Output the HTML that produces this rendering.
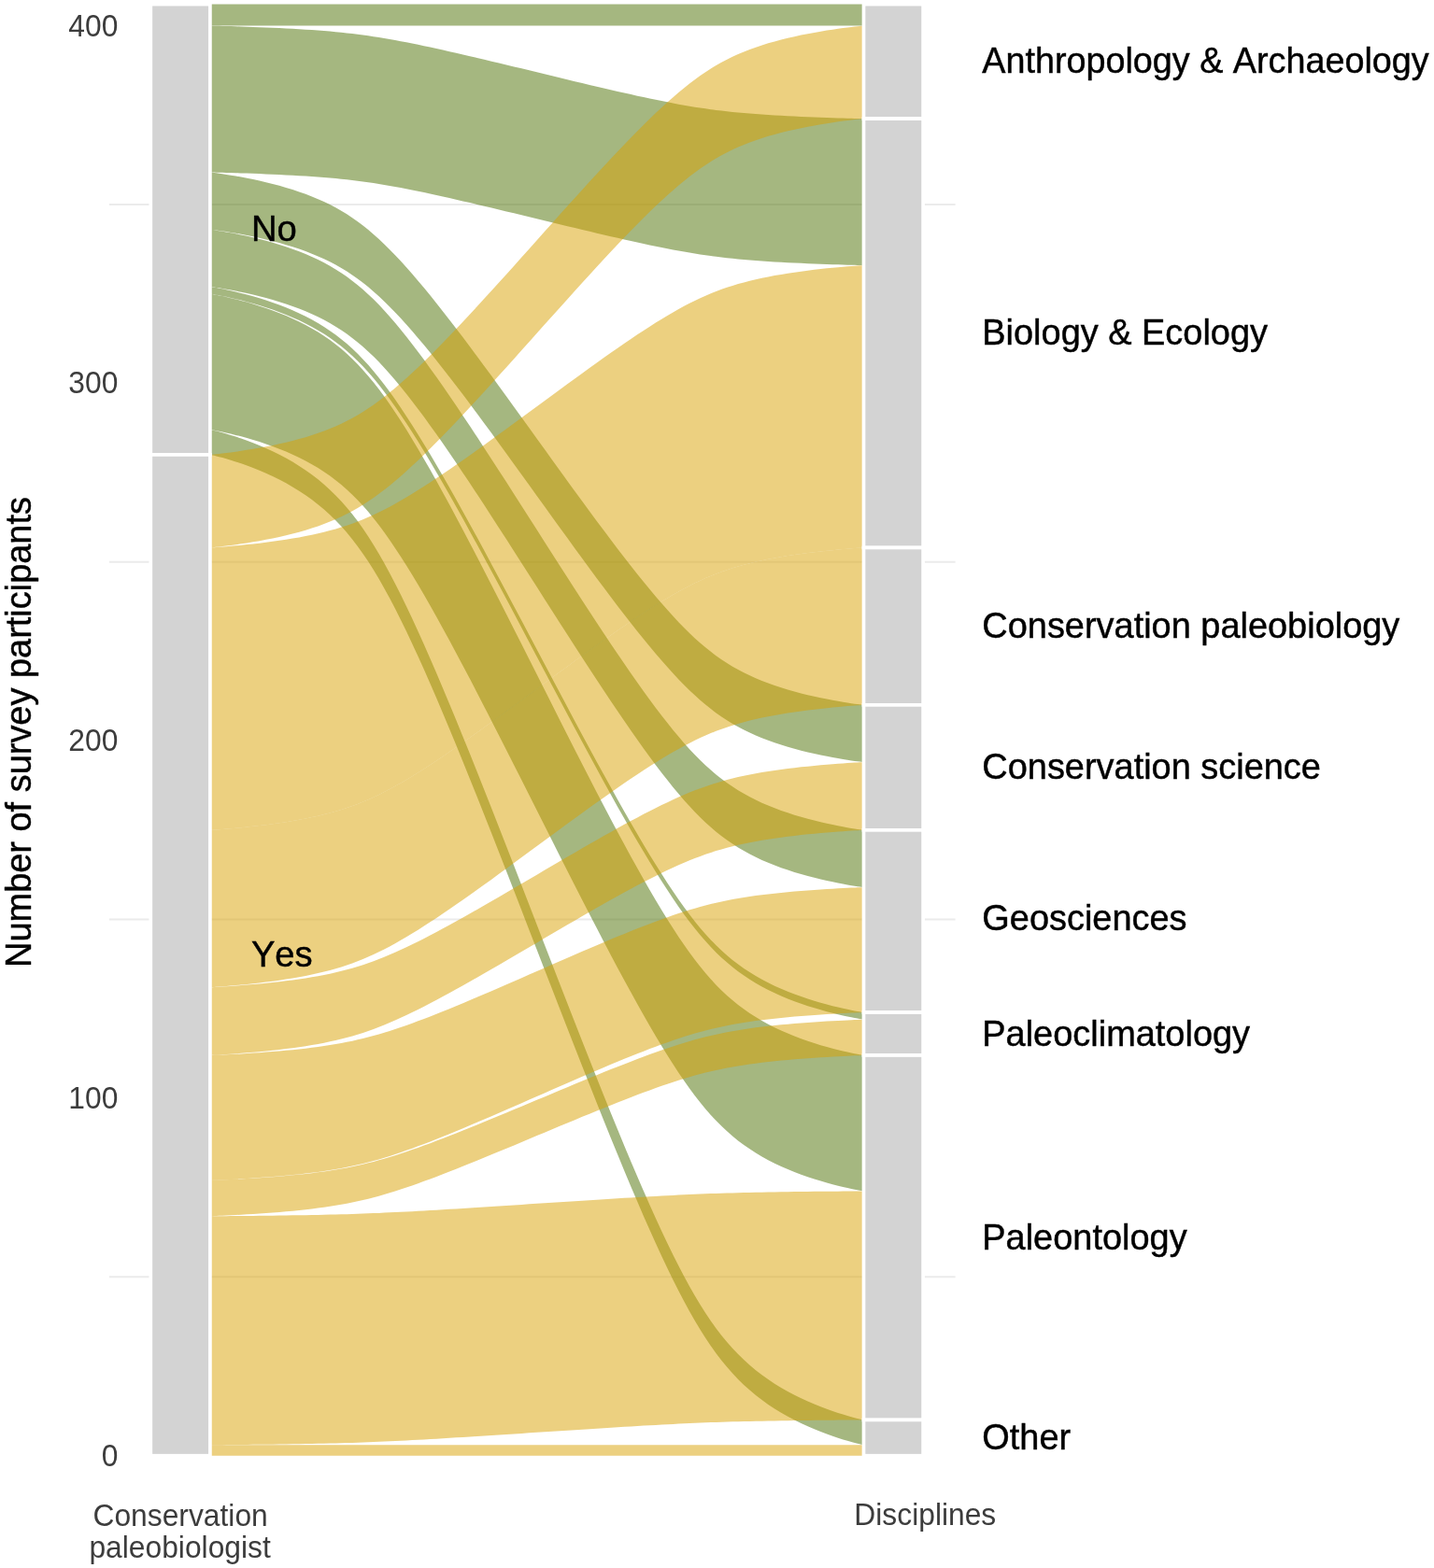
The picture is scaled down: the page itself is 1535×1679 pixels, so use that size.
<!DOCTYPE html><html><head><meta charset="utf-8"><style>html,body{margin:0;padding:0;background:#fff;}svg{display:block;}text{font-family:"Liberation Sans",Arial,sans-serif;font-kerning:none;}</style></head><body>
<svg width="1535" height="1679" viewBox="0 0 1535 1679">
<rect x="0" y="0" width="1535" height="1679" fill="#fff"/>
<line x1="116.9" x2="1022.6" y1="1367.31" y2="1367.31" stroke="#ebebeb" stroke-width="1.9"/>
<line x1="116.9" x2="1022.6" y1="984.53" y2="984.53" stroke="#ebebeb" stroke-width="1.9"/>
<line x1="116.9" x2="1022.6" y1="601.75" y2="601.75" stroke="#ebebeb" stroke-width="1.9"/>
<line x1="116.9" x2="1022.6" y1="218.97" y2="218.97" stroke="#ebebeb" stroke-width="1.9"/>
<path d="M224.90 4.61 L224.92 4.61 L225.08 4.61 L225.49 4.61 L226.26 4.61 L227.48 4.61 L229.23 4.61 L231.56 4.61 L234.49 4.61 L238.06 4.61 L242.25 4.61 L247.02 4.61 L252.34 4.61 L258.15 4.61 L264.37 4.61 L270.93 4.61 L277.74 4.61 L284.74 4.61 L291.85 4.61 L299.00 4.61 L306.15 4.61 L313.23 4.61 L320.22 4.61 L327.10 4.61 L333.83 4.61 L340.42 4.61 L346.86 4.61 L353.15 4.61 L359.30 4.61 L365.32 4.61 L371.24 4.61 L377.07 4.61 L382.82 4.61 L388.52 4.61 L394.20 4.61 L399.88 4.61 L405.58 4.61 L411.31 4.61 L417.11 4.61 L422.99 4.61 L428.95 4.61 L435.01 4.61 L441.19 4.61 L447.49 4.61 L453.92 4.61 L460.49 4.61 L467.21 4.61 L474.07 4.61 L481.09 4.61 L488.26 4.61 L495.57 4.61 L503.03 4.61 L510.62 4.61 L518.33 4.61 L526.16 4.61 L534.09 4.61 L542.10 4.61 L550.19 4.61 L558.33 4.61 L566.50 4.61 L574.70 4.61 L582.90 4.61 L591.07 4.61 L599.21 4.61 L607.30 4.61 L615.31 4.61 L623.24 4.61 L631.07 4.61 L638.78 4.61 L646.37 4.61 L653.83 4.61 L661.14 4.61 L668.31 4.61 L675.33 4.61 L682.19 4.61 L688.91 4.61 L695.48 4.61 L701.91 4.61 L708.21 4.61 L714.39 4.61 L720.45 4.61 L726.41 4.61 L732.29 4.61 L738.09 4.61 L743.82 4.61 L749.52 4.61 L755.20 4.61 L760.88 4.61 L766.58 4.61 L772.33 4.61 L778.16 4.61 L784.08 4.61 L790.10 4.61 L796.25 4.61 L802.54 4.61 L808.98 4.61 L815.57 4.61 L822.30 4.61 L829.18 4.61 L836.17 4.61 L843.25 4.61 L850.40 4.61 L857.55 4.61 L864.66 4.61 L871.66 4.61 L878.47 4.61 L885.03 4.61 L891.25 4.61 L897.06 4.61 L902.38 4.61 L907.15 4.61 L911.34 4.61 L914.91 4.61 L917.84 4.61 L920.17 4.61 L921.92 4.61 L923.14 4.61 L923.91 4.61 L924.32 4.61 L924.48 4.61 L924.50 4.61 L924.50 27.58 L924.48 27.58 L924.32 27.58 L923.91 27.58 L923.14 27.58 L921.92 27.58 L920.17 27.58 L917.84 27.58 L914.91 27.58 L911.34 27.58 L907.15 27.58 L902.38 27.58 L897.06 27.58 L891.25 27.58 L885.03 27.58 L878.47 27.58 L871.66 27.58 L864.66 27.58 L857.55 27.58 L850.40 27.58 L843.25 27.58 L836.17 27.58 L829.18 27.58 L822.30 27.58 L815.57 27.58 L808.98 27.58 L802.54 27.58 L796.25 27.58 L790.10 27.58 L784.08 27.58 L778.16 27.58 L772.33 27.58 L766.58 27.58 L760.88 27.58 L755.20 27.58 L749.52 27.58 L743.82 27.58 L738.09 27.58 L732.29 27.58 L726.41 27.58 L720.45 27.58 L714.39 27.58 L708.21 27.58 L701.91 27.58 L695.48 27.58 L688.91 27.58 L682.19 27.58 L675.33 27.58 L668.31 27.58 L661.14 27.58 L653.83 27.58 L646.37 27.58 L638.78 27.58 L631.07 27.58 L623.24 27.58 L615.31 27.58 L607.30 27.58 L599.21 27.58 L591.07 27.58 L582.90 27.58 L574.70 27.58 L566.50 27.58 L558.33 27.58 L550.19 27.58 L542.10 27.58 L534.09 27.58 L526.16 27.58 L518.33 27.58 L510.62 27.58 L503.03 27.58 L495.57 27.58 L488.26 27.58 L481.09 27.58 L474.07 27.58 L467.21 27.58 L460.49 27.58 L453.92 27.58 L447.49 27.58 L441.19 27.58 L435.01 27.58 L428.95 27.58 L422.99 27.58 L417.11 27.58 L411.31 27.58 L405.58 27.58 L399.88 27.58 L394.20 27.58 L388.52 27.58 L382.82 27.58 L377.07 27.58 L371.24 27.58 L365.32 27.58 L359.30 27.58 L353.15 27.58 L346.86 27.58 L340.42 27.58 L333.83 27.58 L327.10 27.58 L320.22 27.58 L313.23 27.58 L306.15 27.58 L299.00 27.58 L291.85 27.58 L284.74 27.58 L277.74 27.58 L270.93 27.58 L264.37 27.58 L258.15 27.58 L252.34 27.58 L247.02 27.58 L242.25 27.58 L238.06 27.58 L234.49 27.58 L231.56 27.58 L229.23 27.58 L227.48 27.58 L226.26 27.58 L225.49 27.58 L225.08 27.58 L224.92 27.58 L224.90 27.58 Z" fill="#4b6f01" fill-opacity="0.500"/>
<path d="M224.90 27.58 L224.92 27.58 L225.08 27.58 L225.49 27.59 L226.26 27.61 L227.48 27.63 L229.23 27.67 L231.56 27.72 L234.49 27.79 L238.06 27.88 L242.25 27.99 L247.02 28.12 L252.34 28.28 L258.15 28.46 L264.37 28.67 L270.93 28.90 L277.74 29.16 L284.74 29.45 L291.85 29.75 L299.00 30.08 L306.15 30.44 L313.23 30.82 L320.22 31.22 L327.10 31.65 L333.83 32.10 L340.42 32.58 L346.86 33.08 L353.15 33.62 L359.30 34.18 L365.32 34.77 L371.24 35.40 L377.07 36.07 L382.82 36.78 L388.52 37.53 L394.20 38.32 L399.88 39.16 L405.58 40.05 L411.31 41.00 L417.11 42.00 L422.99 43.05 L428.95 44.17 L435.01 45.34 L441.19 46.56 L447.49 47.84 L453.92 49.18 L460.49 50.58 L467.21 52.04 L474.07 53.56 L481.09 55.13 L488.26 56.76 L495.57 58.44 L503.03 60.17 L510.62 61.95 L518.33 63.77 L526.16 65.63 L534.09 67.53 L542.10 69.46 L550.19 71.41 L558.33 73.37 L566.50 75.35 L574.70 77.34 L582.90 79.33 L591.07 81.31 L599.21 83.28 L607.30 85.23 L615.31 87.15 L623.24 89.05 L631.07 90.91 L638.78 92.73 L646.37 94.51 L653.83 96.24 L661.14 97.92 L668.31 99.55 L675.33 101.12 L682.19 102.64 L688.91 104.10 L695.48 105.50 L701.91 106.84 L708.21 108.12 L714.39 109.35 L720.45 110.52 L726.41 111.63 L732.29 112.68 L738.09 113.68 L743.82 114.63 L749.52 115.52 L755.20 116.36 L760.88 117.16 L766.58 117.90 L772.33 118.61 L778.16 119.28 L784.08 119.91 L790.10 120.50 L796.25 121.07 L802.54 121.60 L808.98 122.11 L815.57 122.58 L822.30 123.04 L829.18 123.46 L836.17 123.87 L843.25 124.24 L850.40 124.60 L857.55 124.93 L864.66 125.24 L871.66 125.52 L878.47 125.78 L885.03 126.01 L891.25 126.22 L897.06 126.40 L902.38 126.56 L907.15 126.69 L911.34 126.80 L914.91 126.89 L917.84 126.96 L920.17 127.01 L921.92 127.05 L923.14 127.08 L923.91 127.09 L924.32 127.10 L924.48 127.10 L924.50 127.10 L924.50 284.04 L924.48 284.04 L924.32 284.04 L923.91 284.03 L923.14 284.02 L921.92 283.99 L920.17 283.95 L917.84 283.90 L914.91 283.83 L911.34 283.74 L907.15 283.63 L902.38 283.50 L897.06 283.34 L891.25 283.16 L885.03 282.95 L878.47 282.72 L871.66 282.46 L864.66 282.18 L857.55 281.87 L850.40 281.54 L843.25 281.18 L836.17 280.81 L829.18 280.40 L822.30 279.98 L815.57 279.52 L808.98 279.05 L802.54 278.54 L796.25 278.01 L790.10 277.44 L784.08 276.85 L778.16 276.22 L772.33 275.55 L766.58 274.84 L760.88 274.10 L755.20 273.30 L749.52 272.46 L743.82 271.57 L738.09 270.62 L732.29 269.62 L726.41 268.57 L720.45 267.46 L714.39 266.29 L708.21 265.06 L701.91 263.78 L695.48 262.44 L688.91 261.04 L682.19 259.58 L675.33 258.06 L668.31 256.49 L661.14 254.86 L653.83 253.18 L646.37 251.45 L638.78 249.67 L631.07 247.85 L623.24 245.99 L615.31 244.09 L607.30 242.17 L599.21 240.22 L591.07 238.25 L582.90 236.27 L574.70 234.28 L566.50 232.29 L558.33 230.31 L550.19 228.35 L542.10 226.40 L534.09 224.47 L526.16 222.57 L518.33 220.71 L510.62 218.89 L503.03 217.11 L495.57 215.38 L488.26 213.70 L481.09 212.07 L474.07 210.50 L467.21 208.98 L460.49 207.52 L453.92 206.12 L447.49 204.78 L441.19 203.50 L435.01 202.28 L428.95 201.11 L422.99 199.99 L417.11 198.94 L411.31 197.94 L405.58 196.99 L399.88 196.10 L394.20 195.26 L388.52 194.47 L382.82 193.72 L377.07 193.01 L371.24 192.34 L365.32 191.71 L359.30 191.12 L353.15 190.56 L346.86 190.02 L340.42 189.52 L333.83 189.04 L327.10 188.59 L320.22 188.16 L313.23 187.76 L306.15 187.38 L299.00 187.02 L291.85 186.69 L284.74 186.38 L277.74 186.10 L270.93 185.84 L264.37 185.61 L258.15 185.40 L252.34 185.22 L247.02 185.06 L242.25 184.93 L238.06 184.82 L234.49 184.73 L231.56 184.66 L229.23 184.61 L227.48 184.57 L226.26 184.55 L225.49 184.53 L225.08 184.52 L224.92 184.52 L224.90 184.52 Z" fill="#4b6f01" fill-opacity="0.500"/>
<path d="M224.90 184.52 L224.92 184.52 L225.08 184.54 L225.49 184.58 L226.26 184.67 L227.48 184.81 L229.23 185.02 L231.56 185.33 L234.49 185.73 L238.06 186.24 L242.25 186.88 L247.02 187.64 L252.34 188.55 L258.15 189.59 L264.37 190.78 L270.93 192.11 L277.74 193.59 L284.74 195.21 L291.85 196.97 L299.00 198.86 L306.15 200.90 L313.23 203.07 L320.22 205.38 L327.10 207.83 L333.83 210.42 L340.42 213.16 L346.86 216.05 L353.15 219.11 L359.30 222.34 L365.32 225.75 L371.24 229.36 L377.07 233.19 L382.82 237.23 L388.52 241.52 L394.20 246.07 L399.88 250.89 L405.58 256.00 L411.31 261.42 L417.11 267.15 L422.99 273.20 L428.95 279.58 L435.01 286.27 L441.19 293.29 L447.49 300.64 L453.92 308.33 L460.49 316.35 L467.21 324.71 L474.07 333.39 L481.09 342.41 L488.26 351.74 L495.57 361.37 L503.03 371.30 L510.62 381.49 L518.33 391.93 L526.16 402.60 L534.09 413.47 L542.10 424.50 L550.19 435.68 L558.33 446.96 L566.50 458.31 L574.70 469.69 L582.90 481.08 L591.07 492.43 L599.21 503.70 L607.30 514.88 L615.31 525.91 L623.24 536.78 L631.07 547.45 L638.78 557.89 L646.37 568.09 L653.83 578.01 L661.14 587.64 L668.31 596.97 L675.33 605.99 L682.19 614.68 L688.91 623.03 L695.48 631.05 L701.91 638.74 L708.21 646.09 L714.39 653.11 L720.45 659.80 L726.41 666.18 L732.29 672.23 L738.09 677.96 L743.82 683.38 L749.52 688.49 L755.20 693.31 L760.88 697.86 L766.58 702.15 L772.33 706.20 L778.16 710.02 L784.08 713.63 L790.10 717.04 L796.25 720.27 L802.54 723.33 L808.98 726.23 L815.57 728.97 L822.30 731.56 L829.18 734.00 L836.17 736.31 L843.25 738.48 L850.40 740.52 L857.55 742.42 L864.66 744.17 L871.66 745.79 L878.47 747.27 L885.03 748.60 L891.25 749.79 L897.06 750.84 L902.38 751.74 L907.15 752.51 L911.34 753.14 L914.91 753.66 L917.84 754.06 L920.17 754.36 L921.92 754.57 L923.14 754.71 L923.91 754.80 L924.32 754.84 L924.48 754.86 L924.50 754.86 L924.50 816.11 L924.48 816.10 L924.32 816.09 L923.91 816.05 L923.14 815.96 L921.92 815.82 L920.17 815.60 L917.84 815.30 L914.91 814.90 L911.34 814.39 L907.15 813.75 L902.38 812.99 L897.06 812.08 L891.25 811.04 L885.03 809.85 L878.47 808.51 L871.66 807.04 L864.66 805.42 L857.55 803.66 L850.40 801.76 L843.25 799.73 L836.17 797.56 L829.18 795.25 L822.30 792.80 L815.57 790.21 L808.98 787.47 L802.54 784.58 L796.25 781.52 L790.10 778.29 L784.08 774.88 L778.16 771.26 L772.33 767.44 L766.58 763.39 L760.88 759.10 L755.20 754.56 L749.52 749.73 L743.82 744.62 L738.09 739.21 L732.29 733.48 L726.41 727.42 L720.45 721.05 L714.39 714.35 L708.21 707.34 L701.91 699.98 L695.48 692.30 L688.91 684.28 L682.19 675.92 L675.33 667.23 L668.31 658.22 L661.14 648.89 L653.83 639.25 L646.37 629.33 L638.78 619.14 L631.07 608.69 L623.24 598.03 L615.31 587.16 L607.30 576.12 L599.21 564.95 L591.07 553.67 L582.90 542.32 L574.70 530.94 L566.50 519.55 L558.33 508.20 L550.19 496.92 L542.10 485.75 L534.09 474.71 L526.16 463.85 L518.33 453.18 L510.62 442.74 L503.03 432.54 L495.57 422.62 L488.26 412.98 L481.09 403.65 L474.07 394.64 L467.21 385.95 L460.49 377.59 L453.92 369.57 L447.49 361.89 L441.19 354.54 L435.01 347.52 L428.95 340.82 L422.99 334.45 L417.11 328.39 L411.31 322.66 L405.58 317.25 L399.88 312.14 L394.20 307.32 L388.52 302.77 L382.82 298.48 L377.07 294.43 L371.24 290.61 L365.32 287.00 L359.30 283.58 L353.15 280.35 L346.86 277.29 L340.42 274.40 L333.83 271.66 L327.10 269.07 L320.22 266.62 L313.23 264.31 L306.15 262.14 L299.00 260.11 L291.85 258.21 L284.74 256.45 L277.74 254.83 L270.93 253.36 L264.37 252.02 L258.15 250.84 L252.34 249.79 L247.02 248.89 L242.25 248.12 L238.06 247.48 L234.49 246.97 L231.56 246.57 L229.23 246.27 L227.48 246.05 L226.26 245.91 L225.49 245.83 L225.08 245.78 L224.92 245.77 L224.90 245.76 Z" fill="#4b6f01" fill-opacity="0.500"/>
<path d="M224.90 245.76 L224.92 245.77 L225.08 245.79 L225.49 245.83 L226.26 245.93 L227.48 246.09 L229.23 246.33 L231.56 246.67 L234.49 247.13 L238.06 247.70 L242.25 248.42 L247.02 249.28 L252.34 250.30 L258.15 251.48 L264.37 252.82 L270.93 254.33 L277.74 255.99 L284.74 257.82 L291.85 259.80 L299.00 261.94 L306.15 264.23 L313.23 266.68 L320.22 269.28 L327.10 272.04 L333.83 274.96 L340.42 278.05 L346.86 281.32 L353.15 284.76 L359.30 288.40 L365.32 292.25 L371.24 296.33 L377.07 300.64 L382.82 305.20 L388.52 310.04 L394.20 315.16 L399.88 320.60 L405.58 326.36 L411.31 332.47 L417.11 338.93 L422.99 345.75 L428.95 352.94 L435.01 360.49 L441.19 368.41 L447.49 376.69 L453.92 385.36 L460.49 394.40 L467.21 403.83 L474.07 413.62 L481.09 423.79 L488.26 434.31 L495.57 445.17 L503.03 456.36 L510.62 467.85 L518.33 479.63 L526.16 491.66 L534.09 503.91 L542.10 516.35 L550.19 528.95 L558.33 541.67 L566.50 554.46 L574.70 567.30 L582.90 580.14 L591.07 592.93 L599.21 605.65 L607.30 618.25 L615.31 630.69 L623.24 642.94 L631.07 654.97 L638.78 666.75 L646.37 678.24 L653.83 689.43 L661.14 700.29 L668.31 710.81 L675.33 720.98 L682.19 730.77 L688.91 740.20 L695.48 749.24 L701.91 757.91 L708.21 766.19 L714.39 774.11 L720.45 781.66 L726.41 788.84 L732.29 795.67 L738.09 802.13 L743.82 808.24 L749.52 814.00 L755.20 819.44 L760.88 824.56 L766.58 829.40 L772.33 833.96 L778.16 838.27 L784.08 842.35 L790.10 846.20 L796.25 849.84 L802.54 853.28 L808.98 856.55 L815.57 859.64 L822.30 862.56 L829.18 865.32 L836.17 867.92 L843.25 870.37 L850.40 872.66 L857.55 874.80 L864.66 876.78 L871.66 878.61 L878.47 880.27 L885.03 881.78 L891.25 883.12 L897.06 884.30 L902.38 885.32 L907.15 886.18 L911.34 886.90 L914.91 887.47 L917.84 887.93 L920.17 888.27 L921.92 888.51 L923.14 888.67 L923.91 888.77 L924.32 888.81 L924.48 888.83 L924.50 888.84 L924.50 950.08 L924.48 950.08 L924.32 950.06 L923.91 950.01 L923.14 949.91 L921.92 949.75 L920.17 949.51 L917.84 949.17 L914.91 948.72 L911.34 948.14 L907.15 947.42 L902.38 946.56 L897.06 945.54 L891.25 944.36 L885.03 943.02 L878.47 941.52 L871.66 939.85 L864.66 938.03 L857.55 936.05 L850.40 933.91 L843.25 931.61 L836.17 929.17 L829.18 926.56 L822.30 923.80 L815.57 920.88 L808.98 917.79 L802.54 914.53 L796.25 911.08 L790.10 907.44 L784.08 903.59 L778.16 899.52 L772.33 895.21 L766.58 890.64 L760.88 885.81 L755.20 880.68 L749.52 875.24 L743.82 869.48 L738.09 863.37 L732.29 856.91 L726.41 850.09 L720.45 842.90 L714.39 835.35 L708.21 827.44 L701.91 819.15 L695.48 810.48 L688.91 801.44 L682.19 792.02 L675.33 782.22 L668.31 772.06 L661.14 761.54 L653.83 750.67 L646.37 739.49 L638.78 727.99 L631.07 716.22 L623.24 704.19 L615.31 691.94 L607.30 679.49 L599.21 666.90 L591.07 654.18 L582.90 641.38 L574.70 628.54 L566.50 615.71 L558.33 602.91 L550.19 590.19 L542.10 577.59 L534.09 565.15 L526.16 552.90 L518.33 540.87 L510.62 529.10 L503.03 517.60 L495.57 506.41 L488.26 495.55 L481.09 485.03 L474.07 474.87 L467.21 465.07 L460.49 455.65 L453.92 446.60 L447.49 437.94 L441.19 429.65 L435.01 421.74 L428.95 414.19 L422.99 407.00 L417.11 400.18 L411.31 393.71 L405.58 387.61 L399.88 381.85 L394.20 376.41 L388.52 371.28 L382.82 366.44 L377.07 361.88 L371.24 357.57 L365.32 353.50 L359.30 349.65 L353.15 346.01 L346.86 342.56 L340.42 339.30 L333.83 336.21 L327.10 333.29 L320.22 330.53 L313.23 327.92 L306.15 325.48 L299.00 323.18 L291.85 321.04 L284.74 319.06 L277.74 317.24 L270.93 315.57 L264.37 314.07 L258.15 312.73 L252.34 311.55 L247.02 310.53 L242.25 309.67 L238.06 308.95 L234.49 308.37 L231.56 307.92 L229.23 307.58 L227.48 307.34 L226.26 307.18 L225.49 307.08 L225.08 307.03 L224.92 307.01 L224.90 307.01 Z" fill="#4b6f01" fill-opacity="0.500"/>
<path d="M224.90 307.01 L224.92 307.01 L225.08 307.03 L225.49 307.09 L226.26 307.21 L227.48 307.40 L229.23 307.70 L231.56 308.11 L234.49 308.65 L238.06 309.35 L242.25 310.22 L247.02 311.26 L252.34 312.49 L258.15 313.92 L264.37 315.54 L270.93 317.35 L277.74 319.37 L284.74 321.57 L291.85 323.97 L299.00 326.55 L306.15 329.32 L313.23 332.28 L320.22 335.43 L327.10 338.76 L333.83 342.29 L340.42 346.02 L346.86 349.97 L353.15 354.13 L359.30 358.53 L365.32 363.18 L371.24 368.10 L377.07 373.31 L382.82 378.83 L388.52 384.67 L394.20 390.87 L399.88 397.44 L405.58 404.40 L411.31 411.78 L417.11 419.59 L422.99 427.83 L428.95 436.52 L435.01 445.64 L441.19 455.20 L447.49 465.22 L453.92 475.69 L460.49 486.62 L467.21 498.00 L474.07 509.84 L481.09 522.12 L488.26 534.83 L495.57 547.96 L503.03 561.48 L510.62 575.37 L518.33 589.59 L526.16 604.13 L534.09 618.93 L542.10 633.97 L550.19 649.19 L558.33 664.56 L566.50 680.02 L574.70 695.53 L582.90 711.04 L591.07 726.51 L599.21 741.87 L607.30 757.10 L615.31 772.13 L623.24 786.94 L631.07 801.47 L638.78 815.70 L646.37 829.58 L653.83 843.10 L661.14 856.23 L668.31 868.94 L675.33 881.22 L682.19 893.06 L688.91 904.45 L695.48 915.38 L701.91 925.85 L708.21 935.86 L714.39 945.42 L720.45 954.55 L726.41 963.23 L732.29 971.48 L738.09 979.28 L743.82 986.66 L749.52 993.63 L755.20 1000.20 L760.88 1006.39 L766.58 1012.24 L772.33 1017.75 L778.16 1022.96 L784.08 1027.88 L790.10 1032.53 L796.25 1036.93 L802.54 1041.10 L808.98 1045.04 L815.57 1048.77 L822.30 1052.30 L829.18 1055.64 L836.17 1058.78 L843.25 1061.74 L850.40 1064.51 L857.55 1067.10 L864.66 1069.49 L871.66 1071.70 L878.47 1073.71 L885.03 1075.52 L891.25 1077.14 L897.06 1078.57 L902.38 1079.80 L907.15 1080.84 L911.34 1081.71 L914.91 1082.41 L917.84 1082.95 L920.17 1083.36 L921.92 1083.66 L923.14 1083.85 L923.91 1083.97 L924.32 1084.03 L924.48 1084.05 L924.50 1084.05 L924.50 1091.71 L924.48 1091.71 L924.32 1091.68 L923.91 1091.62 L923.14 1091.51 L921.92 1091.31 L920.17 1091.02 L917.84 1090.61 L914.91 1090.06 L911.34 1089.37 L907.15 1088.50 L902.38 1087.46 L897.06 1086.22 L891.25 1084.80 L885.03 1083.18 L878.47 1081.36 L871.66 1079.35 L864.66 1077.15 L857.55 1074.75 L850.40 1072.17 L843.25 1069.39 L836.17 1066.44 L829.18 1063.29 L822.30 1059.96 L815.57 1056.43 L808.98 1052.69 L802.54 1048.75 L796.25 1044.59 L790.10 1040.19 L784.08 1035.53 L778.16 1030.61 L772.33 1025.41 L766.58 1019.89 L760.88 1014.05 L755.20 1007.85 L749.52 1001.28 L743.82 994.32 L738.09 986.94 L732.29 979.13 L726.41 970.89 L720.45 962.20 L714.39 953.08 L708.21 943.52 L701.91 933.50 L695.48 923.03 L688.91 912.10 L682.19 900.72 L675.33 888.88 L668.31 876.60 L661.14 863.89 L653.83 850.76 L646.37 837.24 L638.78 823.35 L631.07 809.12 L623.24 794.59 L615.31 779.79 L607.30 764.75 L599.21 749.53 L591.07 734.16 L582.90 718.70 L574.70 703.19 L566.50 687.68 L558.33 672.21 L550.19 656.85 L542.10 641.62 L534.09 626.59 L526.16 611.78 L518.33 597.25 L510.62 583.02 L503.03 569.13 L495.57 555.61 L488.26 542.49 L481.09 529.77 L474.07 517.49 L467.21 505.66 L460.49 494.27 L453.92 483.34 L447.49 472.87 L441.19 462.86 L435.01 453.29 L428.95 444.17 L422.99 435.49 L417.11 427.24 L411.31 419.43 L405.58 412.06 L399.88 405.09 L394.20 398.52 L388.52 392.33 L382.82 386.48 L377.07 380.97 L371.24 375.76 L365.32 370.84 L359.30 366.19 L353.15 361.79 L346.86 357.62 L340.42 353.68 L333.83 349.95 L327.10 346.42 L320.22 343.08 L313.23 339.94 L306.15 336.98 L299.00 334.21 L291.85 331.62 L284.74 329.23 L277.74 327.02 L270.93 325.01 L264.37 323.19 L258.15 321.57 L252.34 320.15 L247.02 318.92 L242.25 317.87 L238.06 317.01 L234.49 316.31 L231.56 315.76 L229.23 315.35 L227.48 315.06 L226.26 314.87 L225.49 314.75 L225.08 314.69 L224.92 314.67 L224.90 314.67 Z" fill="#4b6f01" fill-opacity="0.500"/>
<path d="M224.90 314.67 L224.92 314.67 L225.08 314.69 L225.49 314.75 L226.26 314.88 L227.48 315.08 L229.23 315.39 L231.56 315.82 L234.49 316.39 L238.06 317.12 L242.25 318.03 L247.02 319.13 L252.34 320.42 L258.15 321.91 L264.37 323.61 L270.93 325.52 L277.74 327.63 L284.74 329.94 L291.85 332.46 L299.00 335.17 L306.15 338.08 L313.23 341.18 L320.22 344.48 L327.10 347.98 L333.83 351.69 L340.42 355.60 L346.86 359.74 L353.15 364.11 L359.30 368.73 L365.32 373.61 L371.24 378.77 L377.07 384.23 L382.82 390.02 L388.52 396.15 L394.20 402.65 L399.88 409.55 L405.58 416.85 L411.31 424.60 L417.11 432.79 L422.99 441.44 L428.95 450.55 L435.01 460.12 L441.19 470.16 L447.49 480.67 L453.92 491.65 L460.49 503.12 L467.21 515.06 L474.07 527.49 L481.09 540.37 L488.26 553.71 L495.57 567.48 L503.03 581.67 L510.62 596.24 L518.33 611.17 L526.16 626.42 L534.09 641.95 L542.10 657.73 L550.19 673.70 L558.33 689.83 L566.50 706.05 L574.70 722.33 L582.90 738.60 L591.07 754.83 L599.21 770.95 L607.30 786.92 L615.31 802.70 L623.24 818.23 L631.07 833.48 L638.78 848.41 L646.37 862.98 L653.83 877.17 L661.14 890.94 L668.31 904.28 L675.33 917.17 L682.19 929.59 L688.91 941.53 L695.48 953.00 L701.91 963.99 L708.21 974.49 L714.39 984.53 L720.45 994.10 L726.41 1003.21 L732.29 1011.86 L738.09 1020.06 L743.82 1027.80 L749.52 1035.10 L755.20 1042.00 L760.88 1048.50 L766.58 1054.63 L772.33 1060.42 L778.16 1065.88 L784.08 1071.04 L790.10 1075.93 L796.25 1080.54 L802.54 1084.91 L808.98 1089.05 L815.57 1092.97 L822.30 1096.67 L829.18 1100.17 L836.17 1103.47 L843.25 1106.57 L850.40 1109.48 L857.55 1112.19 L864.66 1114.71 L871.66 1117.02 L878.47 1119.13 L885.03 1121.04 L891.25 1122.74 L897.06 1124.23 L902.38 1125.52 L907.15 1126.62 L911.34 1127.53 L914.91 1128.26 L917.84 1128.83 L920.17 1129.26 L921.92 1129.57 L923.14 1129.78 L923.91 1129.90 L924.32 1129.96 L924.48 1129.98 L924.50 1129.99 L924.50 1275.44 L924.48 1275.44 L924.32 1275.42 L923.91 1275.35 L923.14 1275.23 L921.92 1275.03 L920.17 1274.72 L917.84 1274.29 L914.91 1273.72 L911.34 1272.98 L907.15 1272.08 L902.38 1270.98 L897.06 1269.69 L891.25 1268.19 L885.03 1266.49 L878.47 1264.59 L871.66 1262.48 L864.66 1260.16 L857.55 1257.65 L850.40 1254.94 L843.25 1252.03 L836.17 1248.93 L829.18 1245.63 L822.30 1242.13 L815.57 1238.42 L808.98 1234.51 L802.54 1230.37 L796.25 1226.00 L790.10 1221.38 L784.08 1216.50 L778.16 1211.34 L772.33 1205.87 L766.58 1200.09 L760.88 1193.96 L755.20 1187.45 L749.52 1180.56 L743.82 1173.25 L738.09 1165.51 L732.29 1157.32 L726.41 1148.67 L720.45 1139.56 L714.39 1129.99 L708.21 1119.95 L701.91 1109.44 L695.48 1098.46 L688.91 1086.99 L682.19 1075.04 L675.33 1062.62 L668.31 1049.74 L661.14 1036.40 L653.83 1022.63 L646.37 1008.44 L638.78 993.87 L631.07 978.94 L623.24 963.69 L615.31 948.16 L607.30 932.38 L599.21 916.41 L591.07 900.28 L582.90 884.06 L574.70 867.78 L566.50 851.51 L558.33 835.28 L550.19 819.16 L542.10 803.18 L534.09 787.41 L526.16 771.88 L518.33 756.63 L510.62 741.70 L503.03 727.12 L495.57 712.94 L488.26 699.17 L481.09 685.83 L474.07 672.94 L467.21 660.52 L460.49 648.57 L453.92 637.11 L447.49 626.12 L441.19 615.61 L435.01 605.58 L428.95 596.01 L422.99 586.89 L417.11 578.24 L411.31 570.05 L405.58 562.31 L399.88 555.00 L394.20 548.11 L388.52 541.61 L382.82 535.48 L377.07 529.69 L371.24 524.23 L365.32 519.06 L359.30 514.18 L353.15 509.57 L346.86 505.19 L340.42 501.06 L333.83 497.14 L327.10 493.44 L320.22 489.94 L313.23 486.64 L306.15 483.53 L299.00 480.63 L291.85 477.91 L284.74 475.40 L277.74 473.09 L270.93 470.98 L264.37 469.07 L258.15 467.37 L252.34 465.88 L247.02 464.58 L242.25 463.49 L238.06 462.58 L234.49 461.85 L231.56 461.27 L229.23 460.84 L227.48 460.54 L226.26 460.33 L225.49 460.21 L225.08 460.15 L224.92 460.12 L224.90 460.12 Z" fill="#4b6f01" fill-opacity="0.500"/>
<path d="M224.90 460.12 L224.92 460.13 L225.08 460.16 L225.49 460.24 L226.26 460.40 L227.48 460.66 L229.23 461.06 L231.56 461.62 L234.49 462.37 L238.06 463.32 L242.25 464.50 L247.02 465.92 L252.34 467.61 L258.15 469.55 L264.37 471.76 L270.93 474.24 L277.74 476.98 L284.74 479.99 L291.85 483.26 L299.00 486.79 L306.15 490.57 L313.23 494.61 L320.22 498.90 L327.10 503.45 L333.83 508.26 L340.42 513.36 L346.86 518.74 L353.15 524.42 L359.30 530.43 L365.32 536.77 L371.24 543.49 L377.07 550.59 L382.82 558.12 L388.52 566.09 L394.20 574.55 L399.88 583.51 L405.58 593.02 L411.31 603.08 L417.11 613.74 L422.99 624.99 L428.95 636.84 L435.01 649.28 L441.19 662.33 L447.49 676.00 L453.92 690.29 L460.49 705.20 L467.21 720.73 L474.07 736.89 L481.09 753.65 L488.26 770.99 L495.57 788.90 L503.03 807.35 L510.62 826.30 L518.33 845.72 L526.16 865.55 L534.09 885.75 L542.10 906.27 L550.19 927.04 L558.33 948.01 L566.50 969.11 L574.70 990.27 L582.90 1011.44 L591.07 1032.54 L599.21 1053.51 L607.30 1074.28 L615.31 1094.79 L623.24 1115.00 L631.07 1134.83 L638.78 1154.24 L646.37 1173.19 L653.83 1191.64 L661.14 1209.55 L668.31 1226.90 L675.33 1243.66 L682.19 1259.81 L688.91 1275.34 L695.48 1290.26 L701.91 1304.54 L708.21 1318.21 L714.39 1331.26 L720.45 1343.71 L726.41 1355.56 L732.29 1366.81 L738.09 1377.46 L743.82 1387.53 L749.52 1397.03 L755.20 1406.00 L760.88 1414.45 L766.58 1422.42 L772.33 1429.95 L778.16 1437.06 L784.08 1443.77 L790.10 1450.12 L796.25 1456.12 L802.54 1461.81 L808.98 1467.19 L815.57 1472.28 L822.30 1477.10 L829.18 1481.65 L836.17 1485.94 L843.25 1489.97 L850.40 1493.76 L857.55 1497.28 L864.66 1500.55 L871.66 1503.56 L878.47 1506.31 L885.03 1508.79 L891.25 1511.00 L897.06 1512.94 L902.38 1514.62 L907.15 1516.04 L911.34 1517.22 L914.91 1518.18 L917.84 1518.92 L920.17 1519.48 L921.92 1519.88 L923.14 1520.15 L923.91 1520.31 L924.32 1520.39 L924.48 1520.42 L924.50 1520.42 L924.50 1547.22 L924.48 1547.21 L924.32 1547.18 L923.91 1547.10 L923.14 1546.94 L921.92 1546.68 L920.17 1546.28 L917.84 1545.72 L914.91 1544.97 L911.34 1544.02 L907.15 1542.84 L902.38 1541.41 L897.06 1539.73 L891.25 1537.79 L885.03 1535.58 L878.47 1533.10 L871.66 1530.36 L864.66 1527.35 L857.55 1524.08 L850.40 1520.55 L843.25 1516.77 L836.17 1512.73 L829.18 1508.44 L822.30 1503.89 L815.57 1499.07 L808.98 1493.98 L802.54 1488.60 L796.25 1482.92 L790.10 1476.91 L784.08 1470.56 L778.16 1463.85 L772.33 1456.75 L766.58 1449.22 L760.88 1441.24 L755.20 1432.79 L749.52 1423.83 L743.82 1414.32 L738.09 1404.26 L732.29 1393.60 L726.41 1382.35 L720.45 1370.50 L714.39 1358.05 L708.21 1345.00 L701.91 1331.34 L695.48 1317.05 L688.91 1302.14 L682.19 1286.60 L675.33 1270.45 L668.31 1253.69 L661.14 1236.35 L653.83 1218.44 L646.37 1199.99 L638.78 1181.04 L631.07 1161.62 L623.24 1141.79 L615.31 1121.59 L607.30 1101.07 L599.21 1080.30 L591.07 1059.33 L582.90 1038.23 L574.70 1017.07 L566.50 995.90 L558.33 974.80 L550.19 953.83 L542.10 933.06 L534.09 912.54 L526.16 892.34 L518.33 872.51 L510.62 853.10 L503.03 834.15 L495.57 815.70 L488.26 797.79 L481.09 780.44 L474.07 763.68 L467.21 747.53 L460.49 731.99 L453.92 717.08 L447.49 702.79 L441.19 689.13 L435.01 676.08 L428.95 663.63 L422.99 651.78 L417.11 640.53 L411.31 629.88 L405.58 619.81 L399.88 610.31 L394.20 601.34 L388.52 592.89 L382.82 584.91 L377.07 577.39 L371.24 570.28 L365.32 563.57 L359.30 557.22 L353.15 551.22 L346.86 545.53 L340.42 540.15 L333.83 535.06 L327.10 530.24 L320.22 525.69 L313.23 521.40 L306.15 517.36 L299.00 513.58 L291.85 510.06 L284.74 506.79 L277.74 503.78 L270.93 501.03 L264.37 498.55 L258.15 496.34 L252.34 494.40 L247.02 492.72 L242.25 491.29 L238.06 490.11 L234.49 489.16 L231.56 488.41 L229.23 487.85 L227.48 487.46 L226.26 487.19 L225.49 487.03 L225.08 486.95 L224.92 486.92 L224.90 486.92 Z" fill="#4b6f01" fill-opacity="0.500"/>
<path d="M224.90 486.92 L224.92 486.91 L225.08 486.90 L225.49 486.87 L226.26 486.80 L227.48 486.68 L229.23 486.51 L231.56 486.27 L234.49 485.94 L238.06 485.53 L242.25 485.02 L247.02 484.40 L252.34 483.67 L258.15 482.83 L264.37 481.87 L270.93 480.80 L277.74 479.61 L284.74 478.31 L291.85 476.89 L299.00 475.36 L306.15 473.73 L313.23 471.98 L320.22 470.12 L327.10 468.15 L333.83 466.06 L340.42 463.85 L346.86 461.52 L353.15 459.06 L359.30 456.46 L365.32 453.71 L371.24 450.80 L377.07 447.72 L382.82 444.46 L388.52 441.01 L394.20 437.34 L399.88 433.46 L405.58 429.34 L411.31 424.98 L417.11 420.37 L422.99 415.49 L428.95 410.36 L435.01 404.97 L441.19 399.31 L447.49 393.39 L453.92 387.21 L460.49 380.75 L467.21 374.01 L474.07 367.02 L481.09 359.76 L488.26 352.24 L495.57 344.48 L503.03 336.49 L510.62 328.28 L518.33 319.87 L526.16 311.28 L534.09 302.53 L542.10 293.64 L550.19 284.64 L558.33 275.56 L566.50 266.42 L574.70 257.25 L582.90 248.08 L591.07 238.94 L599.21 229.85 L607.30 220.86 L615.31 211.97 L623.24 203.22 L631.07 194.62 L638.78 186.21 L646.37 178.00 L653.83 170.01 L661.14 162.25 L668.31 154.74 L675.33 147.48 L682.19 140.48 L688.91 133.75 L695.48 127.29 L701.91 121.10 L708.21 115.18 L714.39 109.53 L720.45 104.14 L726.41 99.00 L732.29 94.13 L738.09 89.51 L743.82 85.15 L749.52 81.03 L755.20 77.15 L760.88 73.49 L766.58 70.03 L772.33 66.77 L778.16 63.70 L784.08 60.79 L790.10 58.04 L796.25 55.44 L802.54 52.97 L808.98 50.64 L815.57 48.44 L822.30 46.35 L829.18 44.38 L836.17 42.52 L843.25 40.77 L850.40 39.13 L857.55 37.60 L864.66 36.19 L871.66 34.88 L878.47 33.69 L885.03 32.62 L891.25 31.66 L897.06 30.82 L902.38 30.09 L907.15 29.48 L911.34 28.97 L914.91 28.55 L917.84 28.23 L920.17 27.99 L921.92 27.81 L923.14 27.70 L923.91 27.63 L924.32 27.59 L924.48 27.58 L924.50 27.58 L924.50 127.10 L924.48 127.10 L924.32 127.12 L923.91 127.15 L923.14 127.22 L921.92 127.34 L920.17 127.51 L917.84 127.75 L914.91 128.07 L911.34 128.49 L907.15 129.00 L902.38 129.62 L897.06 130.34 L891.25 131.19 L885.03 132.14 L878.47 133.22 L871.66 134.41 L864.66 135.71 L857.55 137.13 L850.40 138.65 L843.25 140.29 L836.17 142.04 L829.18 143.90 L822.30 145.87 L815.57 147.96 L808.98 150.17 L802.54 152.50 L796.25 154.96 L790.10 157.56 L784.08 160.31 L778.16 163.22 L772.33 166.30 L766.58 169.56 L760.88 173.01 L755.20 176.67 L749.52 180.56 L743.82 184.67 L738.09 189.04 L732.29 193.65 L726.41 198.52 L720.45 203.66 L714.39 209.05 L708.21 214.70 L701.91 220.62 L695.48 226.81 L688.91 233.27 L682.19 240.00 L675.33 247.00 L668.31 254.26 L661.14 261.78 L653.83 269.54 L646.37 277.53 L638.78 285.74 L631.07 294.15 L623.24 302.74 L615.31 311.49 L607.30 320.38 L599.21 329.38 L591.07 338.46 L582.90 347.60 L574.70 356.77 L566.50 365.94 L558.33 375.08 L550.19 384.16 L542.10 393.16 L534.09 402.05 L526.16 410.80 L518.33 419.39 L510.62 427.80 L503.03 436.01 L495.57 444.01 L488.26 451.77 L481.09 459.28 L474.07 466.54 L467.21 473.54 L460.49 480.27 L453.92 486.73 L447.49 492.92 L441.19 498.84 L435.01 504.49 L428.95 509.88 L422.99 515.02 L417.11 519.89 L411.31 524.51 L405.58 528.87 L399.88 532.98 L394.20 536.87 L388.52 540.53 L382.82 543.99 L377.07 547.25 L371.24 550.32 L365.32 553.23 L359.30 555.98 L353.15 558.58 L346.86 561.05 L340.42 563.38 L333.83 565.58 L327.10 567.67 L320.22 569.64 L313.23 571.50 L306.15 573.25 L299.00 574.89 L291.85 576.41 L284.74 577.83 L277.74 579.13 L270.93 580.32 L264.37 581.40 L258.15 582.36 L252.34 583.20 L247.02 583.92 L242.25 584.54 L238.06 585.05 L234.49 585.47 L231.56 585.79 L229.23 586.03 L227.48 586.21 L226.26 586.32 L225.49 586.39 L225.08 586.42 L224.92 586.44 L224.90 586.44 Z" fill="#d9a101" fill-opacity="0.500"/>
<path d="M224.90 586.44 L224.92 586.44 L225.08 586.43 L225.49 586.41 L226.26 586.36 L227.48 586.28 L229.23 586.17 L231.56 586.01 L234.49 585.80 L238.06 585.53 L242.25 585.19 L247.02 584.78 L252.34 584.30 L258.15 583.75 L264.37 583.12 L270.93 582.41 L277.74 581.63 L284.74 580.77 L291.85 579.84 L299.00 578.83 L306.15 577.76 L313.23 576.60 L320.22 575.38 L327.10 574.08 L333.83 572.71 L340.42 571.26 L346.86 569.72 L353.15 568.10 L359.30 566.39 L365.32 564.58 L371.24 562.66 L377.07 560.64 L382.82 558.49 L388.52 556.22 L394.20 553.80 L399.88 551.25 L405.58 548.54 L411.31 545.67 L417.11 542.63 L422.99 539.42 L428.95 536.04 L435.01 532.49 L441.19 528.77 L447.49 524.87 L453.92 520.80 L460.49 516.54 L467.21 512.11 L474.07 507.51 L481.09 502.73 L488.26 497.78 L495.57 492.67 L503.03 487.41 L510.62 482.00 L518.33 476.47 L526.16 470.81 L534.09 465.05 L542.10 459.20 L550.19 453.27 L558.33 447.29 L566.50 441.28 L574.70 435.24 L582.90 429.20 L591.07 423.19 L599.21 417.21 L607.30 411.28 L615.31 405.43 L623.24 399.67 L631.07 394.01 L638.78 388.48 L646.37 383.07 L653.83 377.81 L661.14 372.70 L668.31 367.76 L675.33 362.98 L682.19 358.37 L688.91 353.94 L695.48 349.69 L701.91 345.61 L708.21 341.71 L714.39 337.99 L720.45 334.44 L726.41 331.06 L732.29 327.85 L738.09 324.81 L743.82 321.94 L749.52 319.23 L755.20 316.68 L760.88 314.27 L766.58 311.99 L772.33 309.84 L778.16 307.82 L784.08 305.90 L790.10 304.09 L796.25 302.38 L802.54 300.76 L808.98 299.23 L815.57 297.77 L822.30 296.40 L829.18 295.10 L836.17 293.88 L843.25 292.73 L850.40 291.65 L857.55 290.64 L864.66 289.71 L871.66 288.85 L878.47 288.07 L885.03 287.36 L891.25 286.73 L897.06 286.18 L902.38 285.70 L907.15 285.29 L911.34 284.95 L914.91 284.68 L917.84 284.47 L920.17 284.31 L921.92 284.20 L923.14 284.12 L923.91 284.08 L924.32 284.05 L924.48 284.04 L924.50 284.04 L924.50 586.44 L924.48 586.44 L924.32 586.45 L923.91 586.47 L923.14 586.52 L921.92 586.59 L920.17 586.71 L917.84 586.87 L914.91 587.08 L911.34 587.35 L907.15 587.69 L902.38 588.09 L897.06 588.57 L891.25 589.13 L885.03 589.76 L878.47 590.46 L871.66 591.25 L864.66 592.11 L857.55 593.04 L850.40 594.04 L843.25 595.12 L836.17 596.27 L829.18 597.50 L822.30 598.80 L815.57 600.17 L808.98 601.62 L802.54 603.16 L796.25 604.78 L790.10 606.49 L784.08 608.30 L778.16 610.21 L772.33 612.24 L766.58 614.39 L760.88 616.66 L755.20 619.07 L749.52 621.63 L743.82 624.34 L738.09 627.21 L732.29 630.25 L726.41 633.46 L720.45 636.84 L714.39 640.39 L708.21 644.11 L701.91 648.01 L695.48 652.08 L688.91 656.33 L682.19 660.77 L675.33 665.37 L668.31 670.15 L661.14 675.10 L653.83 680.21 L646.37 685.47 L638.78 690.87 L631.07 696.41 L623.24 702.07 L615.31 707.83 L607.30 713.68 L599.21 719.60 L591.07 725.58 L582.90 731.60 L574.70 737.64 L566.50 743.67 L558.33 749.69 L550.19 755.67 L542.10 761.60 L534.09 767.45 L526.16 773.21 L518.33 778.86 L510.62 784.40 L503.03 789.81 L495.57 795.07 L488.26 800.18 L481.09 805.12 L474.07 809.90 L467.21 814.51 L460.49 818.94 L453.92 823.19 L447.49 827.27 L441.19 831.16 L435.01 834.89 L428.95 838.44 L422.99 841.82 L417.11 845.02 L411.31 848.06 L405.58 850.93 L399.88 853.64 L394.20 856.20 L388.52 858.61 L382.82 860.89 L377.07 863.03 L371.24 865.06 L365.32 866.97 L359.30 868.78 L353.15 870.50 L346.86 872.12 L340.42 873.65 L333.83 875.10 L327.10 876.48 L320.22 877.78 L313.23 879.00 L306.15 880.15 L299.00 881.23 L291.85 882.24 L284.74 883.17 L277.74 884.03 L270.93 884.81 L264.37 885.52 L258.15 886.15 L252.34 886.70 L247.02 887.18 L242.25 887.59 L238.06 887.92 L234.49 888.20 L231.56 888.41 L229.23 888.57 L227.48 888.68 L226.26 888.76 L225.49 888.80 L225.08 888.83 L224.92 888.83 L224.90 888.84 Z" fill="#d9a101" fill-opacity="0.500"/>
<path d="M224.90 888.84 L224.92 888.83 L225.08 888.83 L225.49 888.80 L226.26 888.76 L227.48 888.68 L229.23 888.57 L231.56 888.41 L234.49 888.20 L238.06 887.92 L242.25 887.59 L247.02 887.18 L252.34 886.70 L258.15 886.15 L264.37 885.52 L270.93 884.81 L277.74 884.03 L284.74 883.17 L291.85 882.24 L299.00 881.23 L306.15 880.15 L313.23 879.00 L320.22 877.78 L327.10 876.48 L333.83 875.10 L340.42 873.65 L346.86 872.12 L353.15 870.50 L359.30 868.78 L365.32 866.97 L371.24 865.06 L377.07 863.03 L382.82 860.89 L388.52 858.61 L394.20 856.20 L399.88 853.64 L405.58 850.93 L411.31 848.06 L417.11 845.02 L422.99 841.82 L428.95 838.44 L435.01 834.89 L441.19 831.16 L447.49 827.27 L453.92 823.19 L460.49 818.94 L467.21 814.51 L474.07 809.90 L481.09 805.12 L488.26 800.18 L495.57 795.07 L503.03 789.81 L510.62 784.40 L518.33 778.86 L526.16 773.21 L534.09 767.45 L542.10 761.60 L550.19 755.67 L558.33 749.69 L566.50 743.67 L574.70 737.64 L582.90 731.60 L591.07 725.58 L599.21 719.60 L607.30 713.68 L615.31 707.83 L623.24 702.07 L631.07 696.41 L638.78 690.87 L646.37 685.47 L653.83 680.21 L661.14 675.10 L668.31 670.15 L675.33 665.37 L682.19 660.77 L688.91 656.33 L695.48 652.08 L701.91 648.01 L708.21 644.11 L714.39 640.39 L720.45 636.84 L726.41 633.46 L732.29 630.25 L738.09 627.21 L743.82 624.34 L749.52 621.63 L755.20 619.07 L760.88 616.66 L766.58 614.39 L772.33 612.24 L778.16 610.21 L784.08 608.30 L790.10 606.49 L796.25 604.78 L802.54 603.16 L808.98 601.62 L815.57 600.17 L822.30 598.80 L829.18 597.50 L836.17 596.27 L843.25 595.12 L850.40 594.04 L857.55 593.04 L864.66 592.11 L871.66 591.25 L878.47 590.46 L885.03 589.76 L891.25 589.13 L897.06 588.57 L902.38 588.09 L907.15 587.69 L911.34 587.35 L914.91 587.08 L917.84 586.87 L920.17 586.71 L921.92 586.59 L923.14 586.52 L923.91 586.47 L924.32 586.45 L924.48 586.44 L924.50 586.44 L924.50 754.86 L924.48 754.86 L924.32 754.87 L923.91 754.89 L923.14 754.94 L921.92 755.02 L920.17 755.13 L917.84 755.29 L914.91 755.50 L911.34 755.77 L907.15 756.11 L902.38 756.52 L897.06 757.00 L891.25 757.55 L885.03 758.18 L878.47 758.89 L871.66 759.67 L864.66 760.53 L857.55 761.46 L850.40 762.47 L843.25 763.55 L836.17 764.70 L829.18 765.92 L822.30 767.22 L815.57 768.59 L808.98 770.04 L802.54 771.58 L796.25 773.20 L790.10 774.91 L784.08 776.72 L778.16 778.64 L772.33 780.66 L766.58 782.81 L760.88 785.09 L755.20 787.50 L749.52 790.05 L743.82 792.76 L738.09 795.63 L732.29 798.67 L726.41 801.88 L720.45 805.26 L714.39 808.81 L708.21 812.53 L701.91 816.43 L695.48 820.50 L688.91 824.76 L682.19 829.19 L675.33 833.80 L668.31 838.57 L661.14 843.52 L653.83 848.63 L646.37 853.89 L638.78 859.30 L631.07 864.83 L623.24 870.49 L615.31 876.25 L607.30 882.10 L599.21 888.03 L591.07 894.01 L582.90 900.02 L574.70 906.06 L566.50 912.10 L558.33 918.11 L550.19 924.09 L542.10 930.02 L534.09 935.87 L526.16 941.63 L518.33 947.29 L510.62 952.82 L503.03 958.23 L495.57 963.49 L488.26 968.60 L481.09 973.55 L474.07 978.32 L467.21 982.93 L460.49 987.36 L453.92 991.62 L447.49 995.69 L441.19 999.59 L435.01 1003.31 L428.95 1006.86 L422.99 1010.24 L417.11 1013.45 L411.31 1016.49 L405.58 1019.36 L399.88 1022.07 L394.20 1024.62 L388.52 1027.04 L382.82 1029.31 L377.07 1031.46 L371.24 1033.48 L365.32 1035.40 L359.30 1037.21 L353.15 1038.92 L346.86 1040.54 L340.42 1042.08 L333.83 1043.53 L327.10 1044.90 L320.22 1046.20 L313.23 1047.42 L306.15 1048.57 L299.00 1049.65 L291.85 1050.66 L284.74 1051.59 L277.74 1052.45 L270.93 1053.23 L264.37 1053.94 L258.15 1054.57 L252.34 1055.12 L247.02 1055.60 L242.25 1056.01 L238.06 1056.35 L234.49 1056.62 L231.56 1056.83 L229.23 1056.99 L227.48 1057.10 L226.26 1057.18 L225.49 1057.23 L225.08 1057.25 L224.92 1057.26 L224.90 1057.26 Z" fill="#d9a101" fill-opacity="0.500"/>
<path d="M224.90 1057.26 L224.92 1057.26 L225.08 1057.25 L225.49 1057.23 L226.26 1057.20 L227.48 1057.14 L229.23 1057.04 L231.56 1056.92 L234.49 1056.75 L238.06 1056.53 L242.25 1056.26 L247.02 1055.94 L252.34 1055.56 L258.15 1055.11 L264.37 1054.61 L270.93 1054.05 L277.74 1053.42 L284.74 1052.74 L291.85 1052.00 L299.00 1051.19 L306.15 1050.33 L313.23 1049.42 L320.22 1048.44 L327.10 1047.40 L333.83 1046.31 L340.42 1045.15 L346.86 1043.93 L353.15 1042.63 L359.30 1041.27 L365.32 1039.82 L371.24 1038.30 L377.07 1036.68 L382.82 1034.97 L388.52 1033.16 L394.20 1031.23 L399.88 1029.19 L405.58 1027.03 L411.31 1024.74 L417.11 1022.32 L422.99 1019.76 L428.95 1017.07 L435.01 1014.24 L441.19 1011.27 L447.49 1008.16 L453.92 1004.91 L460.49 1001.52 L467.21 997.99 L474.07 994.31 L481.09 990.50 L488.26 986.55 L495.57 982.48 L503.03 978.29 L510.62 973.98 L518.33 969.56 L526.16 965.05 L534.09 960.45 L542.10 955.79 L550.19 951.06 L558.33 946.30 L566.50 941.50 L574.70 936.68 L582.90 931.87 L591.07 927.07 L599.21 922.30 L607.30 917.58 L615.31 912.91 L623.24 908.32 L631.07 903.81 L638.78 899.39 L646.37 895.08 L653.83 890.88 L661.14 886.81 L668.31 882.87 L675.33 879.05 L682.19 875.38 L688.91 871.85 L695.48 868.45 L701.91 865.21 L708.21 862.10 L714.39 859.13 L720.45 856.30 L726.41 853.60 L732.29 851.04 L738.09 848.62 L743.82 846.33 L749.52 844.17 L755.20 842.13 L760.88 840.21 L766.58 838.39 L772.33 836.68 L778.16 835.07 L784.08 833.54 L790.10 832.10 L796.25 830.73 L802.54 829.44 L808.98 828.21 L815.57 827.06 L822.30 825.96 L829.18 824.93 L836.17 823.95 L843.25 823.03 L850.40 822.17 L857.55 821.37 L864.66 820.63 L871.66 819.94 L878.47 819.32 L885.03 818.75 L891.25 818.25 L897.06 817.81 L902.38 817.43 L907.15 817.10 L911.34 816.83 L914.91 816.62 L917.84 816.45 L920.17 816.32 L921.92 816.23 L923.14 816.17 L923.91 816.13 L924.32 816.11 L924.48 816.11 L924.50 816.11 L924.50 888.84 L924.48 888.84 L924.32 888.84 L923.91 888.86 L923.14 888.90 L921.92 888.96 L920.17 889.05 L917.84 889.18 L914.91 889.35 L911.34 889.56 L907.15 889.83 L902.38 890.15 L897.06 890.54 L891.25 890.98 L885.03 891.48 L878.47 892.05 L871.66 892.67 L864.66 893.35 L857.55 894.10 L850.40 894.90 L843.25 895.76 L836.17 896.68 L829.18 897.65 L822.30 898.69 L815.57 899.78 L808.98 900.94 L802.54 902.17 L796.25 903.46 L790.10 904.82 L784.08 906.27 L778.16 907.80 L772.33 909.41 L766.58 911.12 L760.88 912.94 L755.20 914.86 L749.52 916.90 L743.82 919.06 L738.09 921.35 L732.29 923.77 L726.41 926.33 L720.45 929.03 L714.39 931.86 L708.21 934.83 L701.91 937.93 L695.48 941.18 L688.91 944.57 L682.19 948.11 L675.33 951.78 L668.31 955.59 L661.14 959.54 L653.83 963.61 L646.37 967.81 L638.78 972.12 L631.07 976.53 L623.24 981.04 L615.31 985.64 L607.30 990.30 L599.21 995.03 L591.07 999.80 L582.90 1004.60 L574.70 1009.41 L566.50 1014.22 L558.33 1019.02 L550.19 1023.79 L542.10 1028.52 L534.09 1033.18 L526.16 1037.78 L518.33 1042.29 L510.62 1046.70 L503.03 1051.01 L495.57 1055.21 L488.26 1059.28 L481.09 1063.23 L474.07 1067.04 L467.21 1070.71 L460.49 1074.25 L453.92 1077.64 L447.49 1080.89 L441.19 1084.00 L435.01 1086.96 L428.95 1089.79 L422.99 1092.49 L417.11 1095.05 L411.31 1097.47 L405.58 1099.76 L399.88 1101.92 L394.20 1103.96 L388.52 1105.88 L382.82 1107.70 L377.07 1109.41 L371.24 1111.03 L365.32 1112.55 L359.30 1114.00 L353.15 1115.36 L346.86 1116.65 L340.42 1117.88 L333.83 1119.04 L327.10 1120.13 L320.22 1121.17 L313.23 1122.14 L306.15 1123.06 L299.00 1123.92 L291.85 1124.72 L284.74 1125.47 L277.74 1126.15 L270.93 1126.78 L264.37 1127.34 L258.15 1127.84 L252.34 1128.28 L247.02 1128.67 L242.25 1128.99 L238.06 1129.26 L234.49 1129.48 L231.56 1129.65 L229.23 1129.77 L227.48 1129.86 L226.26 1129.92 L225.49 1129.96 L225.08 1129.98 L224.92 1129.99 L224.90 1129.99 Z" fill="#d9a101" fill-opacity="0.500"/>
<path d="M224.90 1129.99 L224.92 1129.99 L225.08 1129.98 L225.49 1129.97 L226.26 1129.94 L227.48 1129.89 L229.23 1129.83 L231.56 1129.73 L234.49 1129.61 L238.06 1129.44 L242.25 1129.24 L247.02 1129.00 L252.34 1128.72 L258.15 1128.39 L264.37 1128.01 L270.93 1127.59 L277.74 1127.13 L284.74 1126.62 L291.85 1126.06 L299.00 1125.46 L306.15 1124.82 L313.23 1124.14 L320.22 1123.41 L327.10 1122.63 L333.83 1121.82 L340.42 1120.95 L346.86 1120.04 L353.15 1119.08 L359.30 1118.06 L365.32 1116.98 L371.24 1115.84 L377.07 1114.64 L382.82 1113.36 L388.52 1112.01 L394.20 1110.57 L399.88 1109.05 L405.58 1107.44 L411.31 1105.73 L417.11 1103.92 L422.99 1102.01 L428.95 1100.00 L435.01 1097.89 L441.19 1095.68 L447.49 1093.36 L453.92 1090.93 L460.49 1088.40 L467.21 1085.77 L474.07 1083.03 L481.09 1080.18 L488.26 1077.24 L495.57 1074.20 L503.03 1071.07 L510.62 1067.85 L518.33 1064.56 L526.16 1061.20 L534.09 1057.77 L542.10 1054.29 L550.19 1050.76 L558.33 1047.20 L566.50 1043.62 L574.70 1040.03 L582.90 1036.44 L591.07 1032.86 L599.21 1029.30 L607.30 1025.78 L615.31 1022.30 L623.24 1018.87 L631.07 1015.51 L638.78 1012.21 L646.37 1009.00 L653.83 1005.87 L661.14 1002.83 L668.31 999.88 L675.33 997.04 L682.19 994.30 L688.91 991.66 L695.48 989.13 L701.91 986.71 L708.21 984.39 L714.39 982.18 L720.45 980.06 L726.41 978.05 L732.29 976.14 L738.09 974.34 L743.82 972.63 L749.52 971.02 L755.20 969.50 L760.88 968.06 L766.58 966.71 L772.33 965.43 L778.16 964.22 L784.08 963.09 L790.10 962.01 L796.25 960.99 L802.54 960.03 L808.98 959.11 L815.57 958.25 L822.30 957.43 L829.18 956.66 L836.17 955.93 L843.25 955.25 L850.40 954.60 L857.55 954.01 L864.66 953.45 L871.66 952.94 L878.47 952.47 L885.03 952.05 L891.25 951.68 L897.06 951.35 L902.38 951.06 L907.15 950.82 L911.34 950.62 L914.91 950.46 L917.84 950.33 L920.17 950.24 L921.92 950.17 L923.14 950.13 L923.91 950.10 L924.32 950.09 L924.48 950.08 L924.50 950.08 L924.50 1084.05 L924.48 1084.05 L924.32 1084.06 L923.91 1084.07 L923.14 1084.10 L921.92 1084.14 L920.17 1084.21 L917.84 1084.31 L914.91 1084.43 L911.34 1084.60 L907.15 1084.80 L902.38 1085.04 L897.06 1085.32 L891.25 1085.65 L885.03 1086.03 L878.47 1086.45 L871.66 1086.91 L864.66 1087.42 L857.55 1087.98 L850.40 1088.58 L843.25 1089.22 L836.17 1089.90 L829.18 1090.63 L822.30 1091.40 L815.57 1092.22 L808.98 1093.09 L802.54 1094.00 L796.25 1094.96 L790.10 1095.98 L784.08 1097.06 L778.16 1098.20 L772.33 1099.40 L766.58 1100.68 L760.88 1102.03 L755.20 1103.47 L749.52 1104.99 L743.82 1106.60 L738.09 1108.31 L732.29 1110.12 L726.41 1112.03 L720.45 1114.04 L714.39 1116.15 L708.21 1118.36 L701.91 1120.68 L695.48 1123.11 L688.91 1125.64 L682.19 1128.27 L675.33 1131.01 L668.31 1133.86 L661.14 1136.80 L653.83 1139.84 L646.37 1142.97 L638.78 1146.18 L631.07 1149.48 L623.24 1152.84 L615.31 1156.27 L607.30 1159.75 L599.21 1163.28 L591.07 1166.83 L582.90 1170.41 L574.70 1174.01 L566.50 1177.60 L558.33 1181.18 L550.19 1184.74 L542.10 1188.26 L534.09 1191.74 L526.16 1195.17 L518.33 1198.53 L510.62 1201.83 L503.03 1205.04 L495.57 1208.17 L488.26 1211.21 L481.09 1214.16 L474.07 1217.00 L467.21 1219.74 L460.49 1222.38 L453.92 1224.91 L447.49 1227.33 L441.19 1229.65 L435.01 1231.86 L428.95 1233.97 L422.99 1235.99 L417.11 1237.89 L411.31 1239.70 L405.58 1241.41 L399.88 1243.02 L394.20 1244.54 L388.52 1245.98 L382.82 1247.33 L377.07 1248.61 L371.24 1249.81 L365.32 1250.95 L359.30 1252.03 L353.15 1253.05 L346.86 1254.01 L340.42 1254.93 L333.83 1255.79 L327.10 1256.61 L320.22 1257.38 L313.23 1258.11 L306.15 1258.79 L299.00 1259.43 L291.85 1260.03 L284.74 1260.59 L277.74 1261.10 L270.93 1261.56 L264.37 1261.98 L258.15 1262.36 L252.34 1262.69 L247.02 1262.97 L242.25 1263.22 L238.06 1263.42 L234.49 1263.58 L231.56 1263.71 L229.23 1263.80 L227.48 1263.87 L226.26 1263.91 L225.49 1263.94 L225.08 1263.95 L224.92 1263.96 L224.90 1263.96 Z" fill="#d9a101" fill-opacity="0.500"/>
<path d="M224.90 1263.96 L224.92 1263.96 L225.08 1263.95 L225.49 1263.94 L226.26 1263.91 L227.48 1263.87 L229.23 1263.81 L231.56 1263.72 L234.49 1263.59 L238.06 1263.44 L242.25 1263.25 L247.02 1263.02 L252.34 1262.74 L258.15 1262.43 L264.37 1262.07 L270.93 1261.67 L277.74 1261.22 L284.74 1260.73 L291.85 1260.20 L299.00 1259.63 L306.15 1259.01 L313.23 1258.36 L320.22 1257.66 L327.10 1256.92 L333.83 1256.14 L340.42 1255.31 L346.86 1254.44 L353.15 1253.51 L359.30 1252.54 L365.32 1251.51 L371.24 1250.42 L377.07 1249.26 L382.82 1248.04 L388.52 1246.74 L394.20 1245.37 L399.88 1243.91 L405.58 1242.37 L411.31 1240.73 L417.11 1239.00 L422.99 1237.18 L428.95 1235.25 L435.01 1233.23 L441.19 1231.11 L447.49 1228.89 L453.92 1226.57 L460.49 1224.15 L467.21 1221.62 L474.07 1219.00 L481.09 1216.27 L488.26 1213.46 L495.57 1210.55 L503.03 1207.55 L510.62 1204.47 L518.33 1201.32 L526.16 1198.10 L534.09 1194.81 L542.10 1191.48 L550.19 1188.11 L558.33 1184.70 L566.50 1181.27 L574.70 1177.83 L582.90 1174.40 L591.07 1170.97 L599.21 1167.56 L607.30 1164.19 L615.31 1160.85 L623.24 1157.57 L631.07 1154.35 L638.78 1151.20 L646.37 1148.12 L653.83 1145.12 L661.14 1142.21 L668.31 1139.39 L675.33 1136.67 L682.19 1134.05 L688.91 1131.52 L695.48 1129.10 L701.91 1126.78 L708.21 1124.56 L714.39 1122.44 L720.45 1120.42 L726.41 1118.49 L732.29 1116.66 L738.09 1114.93 L743.82 1113.30 L749.52 1111.75 L755.20 1110.30 L760.88 1108.92 L766.58 1107.63 L772.33 1106.41 L778.16 1105.25 L784.08 1104.16 L790.10 1103.13 L796.25 1102.15 L802.54 1101.23 L808.98 1100.36 L815.57 1099.53 L822.30 1098.75 L829.18 1098.01 L836.17 1097.31 L843.25 1096.65 L850.40 1096.04 L857.55 1095.47 L864.66 1094.94 L871.66 1094.45 L878.47 1094.00 L885.03 1093.60 L891.25 1093.24 L897.06 1092.92 L902.38 1092.65 L907.15 1092.42 L911.34 1092.23 L914.91 1092.07 L917.84 1091.95 L920.17 1091.86 L921.92 1091.80 L923.14 1091.75 L923.91 1091.73 L924.32 1091.71 L924.48 1091.71 L924.50 1091.71 L924.50 1129.99 L924.48 1129.99 L924.32 1129.99 L923.91 1130.01 L923.14 1130.03 L921.92 1130.07 L920.17 1130.14 L917.84 1130.23 L914.91 1130.35 L911.34 1130.51 L907.15 1130.70 L902.38 1130.93 L897.06 1131.20 L891.25 1131.52 L885.03 1131.88 L878.47 1132.28 L871.66 1132.73 L864.66 1133.21 L857.55 1133.75 L850.40 1134.32 L843.25 1134.93 L836.17 1135.59 L829.18 1136.29 L822.30 1137.02 L815.57 1137.81 L808.98 1138.63 L802.54 1139.51 L796.25 1140.43 L790.10 1141.41 L784.08 1142.44 L778.16 1143.53 L772.33 1144.68 L766.58 1145.91 L760.88 1147.20 L755.20 1148.58 L749.52 1150.03 L743.82 1151.58 L738.09 1153.21 L732.29 1154.94 L726.41 1156.77 L720.45 1158.69 L714.39 1160.72 L708.21 1162.84 L701.91 1165.06 L695.48 1167.38 L688.91 1169.80 L682.19 1172.32 L675.33 1174.95 L668.31 1177.67 L661.14 1180.49 L653.83 1183.40 L646.37 1186.40 L638.78 1189.47 L631.07 1192.63 L623.24 1195.85 L615.31 1199.13 L607.30 1202.46 L599.21 1205.84 L591.07 1209.25 L582.90 1212.67 L574.70 1216.11 L566.50 1219.55 L558.33 1222.98 L550.19 1226.38 L542.10 1229.76 L534.09 1233.09 L526.16 1236.37 L518.33 1239.60 L510.62 1242.75 L503.03 1245.83 L495.57 1248.83 L488.26 1251.73 L481.09 1254.55 L474.07 1257.28 L467.21 1259.90 L460.49 1262.42 L453.92 1264.85 L447.49 1267.17 L441.19 1269.39 L435.01 1271.51 L428.95 1273.53 L422.99 1275.45 L417.11 1277.28 L411.31 1279.01 L405.58 1280.65 L399.88 1282.19 L394.20 1283.65 L388.52 1285.02 L382.82 1286.32 L377.07 1287.54 L371.24 1288.69 L365.32 1289.78 L359.30 1290.82 L353.15 1291.79 L346.86 1292.71 L340.42 1293.59 L333.83 1294.42 L327.10 1295.20 L320.22 1295.94 L313.23 1296.64 L306.15 1297.29 L299.00 1297.91 L291.85 1298.48 L284.74 1299.01 L277.74 1299.50 L270.93 1299.94 L264.37 1300.35 L258.15 1300.71 L252.34 1301.02 L247.02 1301.29 L242.25 1301.53 L238.06 1301.72 L234.49 1301.87 L231.56 1301.99 L229.23 1302.08 L227.48 1302.15 L226.26 1302.19 L225.49 1302.22 L225.08 1302.23 L224.92 1302.24 L224.90 1302.24 Z" fill="#d9a101" fill-opacity="0.500"/>
<path d="M224.90 1302.24 L224.92 1302.24 L225.08 1302.24 L225.49 1302.23 L226.26 1302.23 L227.48 1302.22 L229.23 1302.21 L231.56 1302.20 L234.49 1302.18 L238.06 1302.16 L242.25 1302.13 L247.02 1302.09 L252.34 1302.05 L258.15 1302.00 L264.37 1301.94 L270.93 1301.88 L277.74 1301.81 L284.74 1301.74 L291.85 1301.65 L299.00 1301.56 L306.15 1301.47 L313.23 1301.37 L320.22 1301.26 L327.10 1301.14 L333.83 1301.02 L340.42 1300.89 L346.86 1300.76 L353.15 1300.61 L359.30 1300.46 L365.32 1300.30 L371.24 1300.13 L377.07 1299.95 L382.82 1299.76 L388.52 1299.56 L394.20 1299.35 L399.88 1299.12 L405.58 1298.88 L411.31 1298.62 L417.11 1298.36 L422.99 1298.07 L428.95 1297.77 L435.01 1297.46 L441.19 1297.13 L447.49 1296.78 L453.92 1296.42 L460.49 1296.04 L467.21 1295.65 L474.07 1295.24 L481.09 1294.82 L488.26 1294.38 L495.57 1293.93 L503.03 1293.46 L510.62 1292.98 L518.33 1292.49 L526.16 1291.99 L534.09 1291.48 L542.10 1290.96 L550.19 1290.44 L558.33 1289.91 L566.50 1289.37 L574.70 1288.84 L582.90 1288.31 L591.07 1287.77 L599.21 1287.24 L607.30 1286.72 L615.31 1286.20 L623.24 1285.69 L631.07 1285.19 L638.78 1284.70 L646.37 1284.22 L653.83 1283.75 L661.14 1283.30 L668.31 1282.86 L675.33 1282.44 L682.19 1282.03 L688.91 1281.64 L695.48 1281.26 L701.91 1280.90 L708.21 1280.55 L714.39 1280.22 L720.45 1279.91 L726.41 1279.61 L732.29 1279.32 L738.09 1279.06 L743.82 1278.80 L749.52 1278.56 L755.20 1278.33 L760.88 1278.12 L766.58 1277.92 L772.33 1277.73 L778.16 1277.55 L784.08 1277.38 L790.10 1277.22 L796.25 1277.07 L802.54 1276.92 L808.98 1276.79 L815.57 1276.66 L822.30 1276.54 L829.18 1276.42 L836.17 1276.31 L843.25 1276.21 L850.40 1276.12 L857.55 1276.03 L864.66 1275.94 L871.66 1275.87 L878.47 1275.80 L885.03 1275.74 L891.25 1275.68 L897.06 1275.63 L902.38 1275.59 L907.15 1275.55 L911.34 1275.52 L914.91 1275.50 L917.84 1275.48 L920.17 1275.47 L921.92 1275.46 L923.14 1275.45 L923.91 1275.45 L924.32 1275.44 L924.48 1275.44 L924.50 1275.44 L924.50 1520.42 L924.48 1520.42 L924.32 1520.42 L923.91 1520.42 L923.14 1520.43 L921.92 1520.44 L920.17 1520.45 L917.84 1520.46 L914.91 1520.48 L911.34 1520.50 L907.15 1520.53 L902.38 1520.57 L897.06 1520.61 L891.25 1520.66 L885.03 1520.72 L878.47 1520.78 L871.66 1520.85 L864.66 1520.92 L857.55 1521.01 L850.40 1521.10 L843.25 1521.19 L836.17 1521.29 L829.18 1521.40 L822.30 1521.52 L815.57 1521.64 L808.98 1521.77 L802.54 1521.90 L796.25 1522.05 L790.10 1522.20 L784.08 1522.36 L778.16 1522.53 L772.33 1522.71 L766.58 1522.90 L760.88 1523.10 L755.20 1523.31 L749.52 1523.54 L743.82 1523.78 L738.09 1524.03 L732.29 1524.30 L726.41 1524.59 L720.45 1524.89 L714.39 1525.20 L708.21 1525.53 L701.91 1525.88 L695.48 1526.24 L688.91 1526.62 L682.19 1527.01 L675.33 1527.42 L668.31 1527.84 L661.14 1528.28 L653.83 1528.73 L646.37 1529.20 L638.78 1529.68 L631.07 1530.17 L623.24 1530.67 L615.31 1531.18 L607.30 1531.70 L599.21 1532.22 L591.07 1532.75 L582.90 1533.28 L574.70 1533.82 L566.50 1534.35 L558.33 1534.89 L550.19 1535.42 L542.10 1535.94 L534.09 1536.46 L526.16 1536.97 L518.33 1537.47 L510.62 1537.96 L503.03 1538.44 L495.57 1538.91 L488.26 1539.36 L481.09 1539.80 L474.07 1540.22 L467.21 1540.63 L460.49 1541.02 L453.92 1541.40 L447.49 1541.76 L441.19 1542.11 L435.01 1542.44 L428.95 1542.75 L422.99 1543.05 L417.11 1543.33 L411.31 1543.60 L405.58 1543.86 L399.88 1544.10 L394.20 1544.32 L388.52 1544.54 L382.82 1544.74 L377.07 1544.93 L371.24 1545.11 L365.32 1545.28 L359.30 1545.44 L353.15 1545.59 L346.86 1545.74 L340.42 1545.87 L333.83 1546.00 L327.10 1546.12 L320.22 1546.24 L313.23 1546.35 L306.15 1546.45 L299.00 1546.54 L291.85 1546.63 L284.74 1546.71 L277.74 1546.79 L270.93 1546.86 L264.37 1546.92 L258.15 1546.98 L252.34 1547.03 L247.02 1547.07 L242.25 1547.11 L238.06 1547.14 L234.49 1547.16 L231.56 1547.18 L229.23 1547.19 L227.48 1547.20 L226.26 1547.21 L225.49 1547.21 L225.08 1547.22 L224.92 1547.22 L224.90 1547.22 Z" fill="#d9a101" fill-opacity="0.500"/>
<path d="M224.90 1547.22 L224.92 1547.22 L225.08 1547.22 L225.49 1547.22 L226.26 1547.22 L227.48 1547.22 L229.23 1547.22 L231.56 1547.22 L234.49 1547.22 L238.06 1547.22 L242.25 1547.22 L247.02 1547.22 L252.34 1547.22 L258.15 1547.22 L264.37 1547.22 L270.93 1547.22 L277.74 1547.22 L284.74 1547.22 L291.85 1547.22 L299.00 1547.22 L306.15 1547.22 L313.23 1547.22 L320.22 1547.22 L327.10 1547.22 L333.83 1547.22 L340.42 1547.22 L346.86 1547.22 L353.15 1547.22 L359.30 1547.22 L365.32 1547.22 L371.24 1547.22 L377.07 1547.22 L382.82 1547.22 L388.52 1547.22 L394.20 1547.22 L399.88 1547.22 L405.58 1547.22 L411.31 1547.22 L417.11 1547.22 L422.99 1547.22 L428.95 1547.22 L435.01 1547.22 L441.19 1547.22 L447.49 1547.22 L453.92 1547.22 L460.49 1547.22 L467.21 1547.22 L474.07 1547.22 L481.09 1547.22 L488.26 1547.22 L495.57 1547.22 L503.03 1547.22 L510.62 1547.22 L518.33 1547.22 L526.16 1547.22 L534.09 1547.22 L542.10 1547.22 L550.19 1547.22 L558.33 1547.22 L566.50 1547.22 L574.70 1547.22 L582.90 1547.22 L591.07 1547.22 L599.21 1547.22 L607.30 1547.22 L615.31 1547.22 L623.24 1547.22 L631.07 1547.22 L638.78 1547.22 L646.37 1547.22 L653.83 1547.22 L661.14 1547.22 L668.31 1547.22 L675.33 1547.22 L682.19 1547.22 L688.91 1547.22 L695.48 1547.22 L701.91 1547.22 L708.21 1547.22 L714.39 1547.22 L720.45 1547.22 L726.41 1547.22 L732.29 1547.22 L738.09 1547.22 L743.82 1547.22 L749.52 1547.22 L755.20 1547.22 L760.88 1547.22 L766.58 1547.22 L772.33 1547.22 L778.16 1547.22 L784.08 1547.22 L790.10 1547.22 L796.25 1547.22 L802.54 1547.22 L808.98 1547.22 L815.57 1547.22 L822.30 1547.22 L829.18 1547.22 L836.17 1547.22 L843.25 1547.22 L850.40 1547.22 L857.55 1547.22 L864.66 1547.22 L871.66 1547.22 L878.47 1547.22 L885.03 1547.22 L891.25 1547.22 L897.06 1547.22 L902.38 1547.22 L907.15 1547.22 L911.34 1547.22 L914.91 1547.22 L917.84 1547.22 L920.17 1547.22 L921.92 1547.22 L923.14 1547.22 L923.91 1547.22 L924.32 1547.22 L924.48 1547.22 L924.50 1547.22 L924.50 1558.70 L924.48 1558.70 L924.32 1558.70 L923.91 1558.70 L923.14 1558.70 L921.92 1558.70 L920.17 1558.70 L917.84 1558.70 L914.91 1558.70 L911.34 1558.70 L907.15 1558.70 L902.38 1558.70 L897.06 1558.70 L891.25 1558.70 L885.03 1558.70 L878.47 1558.70 L871.66 1558.70 L864.66 1558.70 L857.55 1558.70 L850.40 1558.70 L843.25 1558.70 L836.17 1558.70 L829.18 1558.70 L822.30 1558.70 L815.57 1558.70 L808.98 1558.70 L802.54 1558.70 L796.25 1558.70 L790.10 1558.70 L784.08 1558.70 L778.16 1558.70 L772.33 1558.70 L766.58 1558.70 L760.88 1558.70 L755.20 1558.70 L749.52 1558.70 L743.82 1558.70 L738.09 1558.70 L732.29 1558.70 L726.41 1558.70 L720.45 1558.70 L714.39 1558.70 L708.21 1558.70 L701.91 1558.70 L695.48 1558.70 L688.91 1558.70 L682.19 1558.70 L675.33 1558.70 L668.31 1558.70 L661.14 1558.70 L653.83 1558.70 L646.37 1558.70 L638.78 1558.70 L631.07 1558.70 L623.24 1558.70 L615.31 1558.70 L607.30 1558.70 L599.21 1558.70 L591.07 1558.70 L582.90 1558.70 L574.70 1558.70 L566.50 1558.70 L558.33 1558.70 L550.19 1558.70 L542.10 1558.70 L534.09 1558.70 L526.16 1558.70 L518.33 1558.70 L510.62 1558.70 L503.03 1558.70 L495.57 1558.70 L488.26 1558.70 L481.09 1558.70 L474.07 1558.70 L467.21 1558.70 L460.49 1558.70 L453.92 1558.70 L447.49 1558.70 L441.19 1558.70 L435.01 1558.70 L428.95 1558.70 L422.99 1558.70 L417.11 1558.70 L411.31 1558.70 L405.58 1558.70 L399.88 1558.70 L394.20 1558.70 L388.52 1558.70 L382.82 1558.70 L377.07 1558.70 L371.24 1558.70 L365.32 1558.70 L359.30 1558.70 L353.15 1558.70 L346.86 1558.70 L340.42 1558.70 L333.83 1558.70 L327.10 1558.70 L320.22 1558.70 L313.23 1558.70 L306.15 1558.70 L299.00 1558.70 L291.85 1558.70 L284.74 1558.70 L277.74 1558.70 L270.93 1558.70 L264.37 1558.70 L258.15 1558.70 L252.34 1558.70 L247.02 1558.70 L242.25 1558.70 L238.06 1558.70 L234.49 1558.70 L231.56 1558.70 L229.23 1558.70 L227.48 1558.70 L226.26 1558.70 L225.49 1558.70 L225.08 1558.70 L224.92 1558.70 L224.90 1558.70 Z" fill="#d9a101" fill-opacity="0.500"/>
<rect x="161.30" y="4.61" width="63.60" height="482.30" fill="#d3d3d3" stroke="#fff" stroke-width="3.70"/>
<rect x="161.30" y="486.92" width="63.60" height="1071.78" fill="#d3d3d3" stroke="#fff" stroke-width="3.70"/>
<rect x="924.50" y="4.61" width="63.60" height="122.49" fill="#d3d3d3" stroke="#fff" stroke-width="3.70"/>
<rect x="924.50" y="127.10" width="63.60" height="459.34" fill="#d3d3d3" stroke="#fff" stroke-width="3.70"/>
<rect x="924.50" y="586.44" width="63.60" height="168.42" fill="#d3d3d3" stroke="#fff" stroke-width="3.70"/>
<rect x="924.50" y="754.86" width="63.60" height="133.97" fill="#d3d3d3" stroke="#fff" stroke-width="3.70"/>
<rect x="924.50" y="888.84" width="63.60" height="195.22" fill="#d3d3d3" stroke="#fff" stroke-width="3.70"/>
<rect x="924.50" y="1084.05" width="63.60" height="45.93" fill="#d3d3d3" stroke="#fff" stroke-width="3.70"/>
<rect x="924.50" y="1129.99" width="63.60" height="390.44" fill="#d3d3d3" stroke="#fff" stroke-width="3.70"/>
<rect x="924.50" y="1520.42" width="63.60" height="38.28" fill="#d3d3d3" stroke="#fff" stroke-width="3.70"/>
<text transform="translate(268.90 257.80) scale(1 1.025)" font-size="38.20" fill="#000" stroke="#000" stroke-width="0.45">No</text>
<text transform="translate(268.90 1035.10) scale(1 1.025)" font-size="38.20" fill="#000" stroke="#000" stroke-width="0.45">Yes</text>
<text transform="translate(1051.30 78.30) scale(1 1.025)" font-size="37.95" fill="#000" stroke="#000" stroke-width="0.45" textLength="478.40" lengthAdjust="spacingAndGlyphs">Anthropology &amp; Archaeology</text>
<text transform="translate(1051.30 369.10) scale(1 1.025)" font-size="37.95" fill="#000" stroke="#000" stroke-width="0.45">Biology &amp; Ecology</text>
<text transform="translate(1051.30 682.80) scale(1 1.025)" font-size="37.95" fill="#000" stroke="#000" stroke-width="0.45">Conservation paleobiology</text>
<text transform="translate(1051.30 834.10) scale(1 1.025)" font-size="37.95" fill="#000" stroke="#000" stroke-width="0.45">Conservation science</text>
<text transform="translate(1051.30 995.50) scale(1 1.025)" font-size="37.95" fill="#000" stroke="#000" stroke-width="0.45">Geosciences</text>
<text transform="translate(1051.30 1119.70) scale(1 1.025)" font-size="37.95" fill="#000" stroke="#000" stroke-width="0.45">Paleoclimatology</text>
<text transform="translate(1051.30 1337.90) scale(1 1.025)" font-size="37.95" fill="#000" stroke="#000" stroke-width="0.45">Paleontology</text>
<text transform="translate(1051.30 1551.80) scale(1 1.025)" font-size="37.95" fill="#000" stroke="#000" stroke-width="0.45">Other</text>
<text transform="translate(126.40 1569.80) scale(1 1.025)" font-size="31.80" fill="#3c3c3c" stroke="#3c3c3c" stroke-width="0.00" text-anchor="end">0</text>
<text transform="translate(126.40 1187.02) scale(1 1.025)" font-size="31.80" fill="#3c3c3c" stroke="#3c3c3c" stroke-width="0.00" text-anchor="end">100</text>
<text transform="translate(126.40 804.24) scale(1 1.025)" font-size="31.80" fill="#3c3c3c" stroke="#3c3c3c" stroke-width="0.00" text-anchor="end">200</text>
<text transform="translate(126.40 421.46) scale(1 1.025)" font-size="31.80" fill="#3c3c3c" stroke="#3c3c3c" stroke-width="0.00" text-anchor="end">300</text>
<text transform="translate(126.40 38.68) scale(1 1.025)" font-size="31.80" fill="#3c3c3c" stroke="#3c3c3c" stroke-width="0.00" text-anchor="end">400</text>
<text transform="translate(193.10 1633.50) scale(1 1.025)" font-size="31.80" fill="#3c3c3c" stroke="#3c3c3c" stroke-width="0.00" text-anchor="middle">Conservation</text>
<text transform="translate(192.60 1668.20) scale(1 1.025)" font-size="31.80" fill="#3c3c3c" stroke="#3c3c3c" stroke-width="0.00" text-anchor="middle">paleobiologist</text>
<text transform="translate(990.30 1633.30) scale(1 1.025)" font-size="31.80" fill="#3c3c3c" stroke="#3c3c3c" stroke-width="0.00" text-anchor="middle">Disciplines</text>
<text transform="translate(32.50 784.00) rotate(-90) scale(1 1.025)" font-size="37.95" fill="#000" stroke="#000" stroke-width="0.45" text-anchor="middle">Number of survey participants</text>
</svg></body></html>
